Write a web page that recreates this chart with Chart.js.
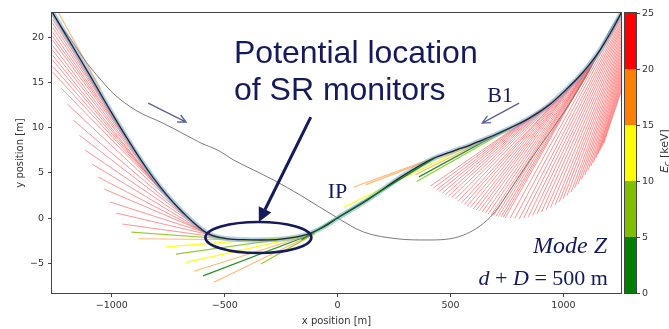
<!DOCTYPE html>
<html lang="en">
<head>
<meta charset="UTF-8">
<title>SR fans - Mode Z</title>
<script src="https://cdn.jsdelivr.net/npm/chart.js"></script>
<style>
  html, body { margin: 0; padding: 0; background: #fff; }
</style>
</head>
<body>
<canvas id="myChart" width="669" height="329"></canvas>
<script>
// ticks
const xTicks = [-1000, -500, 0, 500, 1000];
const yTicks = [-5, 0, 5, 10, 15, 20];
const cbarTicks = [0, 5, 10, 15, 20, 25];

// E_c colour bands [keV]
const bandEdges = [0, 5, 10, 15, 20, 25];
const bandColors = ['#007f00', '#80bf00', '#ffff00', '#ff7f00', '#ff0000'];

// B1 orbit
const b1X = [-1280, -1259, -1179, -1100, -994, -923, -870, -817, -760, -707, -671, -636, -605, -574, -530, -486, -420, -340, -270, -208, -160, -119, -60, 0, 132, 278, 424, 500, 543, 580, 618, 700, 808, 875, 941, 1007, 1073, 1118, 1162, 1206, 1254, 1275];
const b1Y = [23.5, 22.6, 19.24, 15.92, 11.36, 8.45, 6.38, 4.47, 2.65, 1.17, 0.27, -0.54, -1.19, -1.72, -2.12, -2.3, -2.4, -2.43, -2.38, -2.2, -1.98, -1.66, -0.95, 0, 2.0, 4.5, 6.6, 7.3, 7.7, 8.0, 8.4, 9.25, 10.5, 11.45, 12.6, 14.1, 15.75, 17.1, 18.6, 20.4, 22.6, 23.6];

// B2 orbit (grey)
const b2X = [-1275, -1259, -1179, -1113, -1047, -994, -892, -773, -658, -605, -530, -459, -371, -283, -163, 0, 115, 265, 397, 556, 676, 764, 852, 1007, 1117, 1206, 1254, 1270];
const b2Y = [23.5, 22.56, 19.7, 17.25, 15.26, 13.8, 11.9, 10.5, 9.0, 8.3, 7.5, 6.4, 5.3, 4.2, 2.5, 0, -1.55, -2.3, -2.43, -1.9, 0.1, 3.1, 6.4, 11.9, 16.4, 20.8, 22.7, 23.4];

// hard photons (20-25 keV): start on orbit -> end of fan line
const redX0 = [-1047, -1020, -994, -965, -936, -912, -888, -863, -839, -817, -795, -775, -755, -716, -680, -649, -623, -601, -583, -565, -543, -521, -499, -477,
  852, 883, 914, 945, 976, 1007, 1034, 1060, 1087, 1113, 1140, 1166, 1193, 1219,
  868, 899, 930, 961, 992, 1020, 1047, 1074, 1100, 1127, 1153, 1180, 1206,
  1256, 1256, 1256, 1256, 1256, 1256, 1256, 1256, 1256, 1256, 1256, 1256, 1256, 1256,
  1256, 1256, 1256, 1256, 1256, 1256, 1256, 1256, 1256, 1256, 1256, 1256, 1256];
const redY0 = [13.6, 12.4, 11.3, 10.1, 8.9, 8.0, 7.0, 6.0, 5.1, 4.2, 3.5, 2.95, 2.4, 1.4, 0.5, -0.3, -0.85, -1.28, -1.65, -1.9, -2.03, -2.14, -2.25, -2.32,
  11.17, 11.72, 12.28, 12.83, 13.49, 14.1, 14.82, 15.48, 16.26, 16.92, 17.81, 18.8, 19.8, 21.01,
  11.45, 12.0, 12.55, 13.16, 13.83, 14.49, 15.15, 15.87, 16.59, 17.37, 18.3, 19.3, 20.4,
  22.34, 21.79, 21.24, 20.68, 20.02, 19.36, 18.69, 18.03, 17.36, 16.7, 16.04, 15.37, 14.71, 14.05,
  22.07, 21.52, 20.96, 20.35, 19.69, 19.03, 18.36, 17.7, 17.03, 16.37, 15.71, 15.04, 14.38];
const redX1 = [-1262, -1262, -1262, -1262, -1262, -1262, -1262, -1262, -1262, -1262, -1262, -1262, -1262, -1224, -1197, -1171, -1144, -1118, -1087, -1060, -1034, -1007, -981, -954,
  411, 437, 464, 490, 521, 548, 574, 601, 627, 654, 680, 702, 724, 742,
  424, 450, 477, 505, 534, 561, 588, 614, 640, 667, 691, 713, 733,
  764, 804, 844, 883, 923, 963, 998, 1034, 1065, 1095, 1122, 1144, 1162, 1179,
  784, 824, 864, 903, 943, 981, 1016, 1050, 1080, 1109, 1133, 1153, 1171];
const redY1 = [22.45, 22.0, 21.57, 21.1, 20.57, 20.1, 19.69, 19.1, 18.58, 18.0, 17.47, 16.8, 16.15, 14.38, 12.61, 10.84, 9.18, 7.52, 5.97, 4.53, 3.21, 1.77, 0.55, -0.66,
  3.54, 3.1, 2.77, 2.43, 2.1, 1.66, 1.33, 1.0, 0.77, 0.55, 0.33, 0.22, 0.11, 0.0,
  3.32, 2.94, 2.6, 2.27, 1.88, 1.5, 1.17, 0.89, 0.66, 0.44, 0.28, 0.17, 0.05,
  0.0, -0.11, 0.11, 0.44, 0.88, 1.44, 2.1, 2.88, 3.76, 4.76, 5.75, 6.64, 7.52, 8.3,
  -0.06, 0.0, 0.28, 0.66, 1.16, 1.77, 2.49, 3.32, 4.26, 5.26, 6.2, 7.08, 7.91];

// softer photons, band = index in bandColors
const softX0 = [660, 680, 700, 590, 770, 730, -486, -420, -150, -150, -140, -130, -120, -110, -100, -1240];
const softY0 = [8.8, 9.0, 9.25, 8.1, 10.0, 9.6, -2.32, -2.4, -2.0, -2.0, -1.95, -1.9, -1.85, -1.8, -1.7, 22.9];
const softX1 = [70, 125, 345, 27, 350, 360, -914, -883, -760, -716, -671, -636, -596, -548, -340, -1050];
const softY1 = [3.4, 3.7, 4.8, 1.2, 4.05, 4.55, -1.55, -2.3, -3.2, -4.0, -4.9, -5.9, -6.4, -7.1, -5.1, 14.3];
const softBand = [3, 3, 3, 2, 1, 0, 1, 3, 2, 1, 2, 3, 0, 3, 1, 3];

// straight section through the IP (green overlay on the orbit)
const ipX = [430, -160];
const ipY = [6.65, -2.4];

const navy = '#141a5a';
const alphaFor = [0.85, 0.8, 0.9, 0.55, 0.42];
const widthFor = [1.3, 1.2, 1.2, 1.1, 1];

function rgba(hex, a) {
    const n = parseInt(hex.slice(1), 16);
    return `rgba(${n >> 16}, ${(n >> 8) & 255}, ${n & 255}, ${a})`;
}

function segment(x0, y0, x1, y1, band, order) {
    return {
        data: [{ x: x0, y: y0 }, { x: x1, y: y1 }],
        showLine: true,
        borderColor: rgba(bandColors[band], alphaFor[band]),
        borderWidth: widthFor[band],
        pointRadius: 0,
        order: order
    };
}

const datasets = [];

// orbits
datasets.push({
    data: ipX.map((x, i) => ({ x, y: ipY[i] })),
    showLine: true, borderColor: rgba(bandColors[0], 0.9), borderWidth: 1.3, pointRadius: 0, order: 0
});
datasets.push({
    data: b1X.map((x, i) => ({ x, y: b1Y[i] })),
    showLine: true, borderColor: '#232323', borderWidth: 1.3, pointRadius: 0,
    cubicInterpolationMode: 'monotone', order: 1
});
datasets.push({
    data: b1X.map((x, i) => ({ x, y: b1Y[i] })),
    showLine: true, borderColor: 'rgba(110, 165, 215, 0.55)', borderWidth: 5, pointRadius: 0,
    cubicInterpolationMode: 'monotone', order: 2
});
datasets.push({
    data: b2X.map((x, i) => ({ x, y: b2Y[i] })),
    showLine: true, borderColor: '#7a7a7a', borderWidth: 1, pointRadius: 0,
    cubicInterpolationMode: 'monotone', order: 3
});

softX0.forEach((x, i) => datasets.push(segment(x, softY0[i], softX1[i], softY1[i], softBand[i], 5)));
redX0.forEach((x, i) => datasets.push(segment(x, redY0[i], redX1[i], redY1[i], 4, 6)));

function fmt(v) {
    return v < 0 ? '\u2212' + Math.abs(v) : String(v);
}

function openArrow(ctx, x0, y0, x1, y1, head) {
    const a = Math.atan2(y1 - y0, x1 - x0);
    ctx.beginPath();
    ctx.moveTo(x0, y0);
    ctx.lineTo(x1, y1);
    ctx.moveTo(x1 - head * Math.cos(a - 0.45), y1 - head * Math.sin(a - 0.45));
    ctx.lineTo(x1, y1);
    ctx.lineTo(x1 - head * Math.cos(a + 0.45), y1 - head * Math.sin(a + 0.45));
    ctx.stroke();
}

function drawPieces(ctx, pieces, rightX, baseY) {
    let total = 0;
    pieces.forEach(p => { ctx.font = p.font; p.w = ctx.measureText(p.text).width; total += p.w; });
    let x = rightX - total;
    pieces.forEach(p => {
        ctx.font = p.font;
        ctx.fillText(p.text, x, baseY + (p.dy || 0));
        x += p.w;
    });
}

const overlay = {
    id: 'overlay',
    afterDraw(chart) {
        const ctx = chart.ctx;
        const area = chart.chartArea;
        const sx = chart.scales.x, sy = chart.scales.y;
        const X = v => sx.getPixelForValue(v);
        const Y = v => sy.getPixelForValue(v);

        ctx.save();
        // frame
        ctx.strokeStyle = '#444';
        ctx.lineWidth = 1;
        ctx.strokeRect(Math.round(area.left) - 0.5, Math.round(area.top) - 0.5,
            Math.round(area.right - area.left) + 1, Math.round(area.bottom - area.top) + 1);

        // colour bar
        const cbL = Math.round(area.right) + 4, cbW = 11;
        const cy = v => area.bottom - (v / 25) * (area.bottom - area.top);
        bandColors.forEach((c, i) => {
            ctx.fillStyle = c;
            ctx.fillRect(cbL, cy(bandEdges[i + 1]), cbW, cy(bandEdges[i]) - cy(bandEdges[i + 1]));
        });
        ctx.strokeStyle = '#444';
        ctx.strokeRect(cbL - 0.5, Math.round(area.top) - 0.5, cbW + 1, Math.round(area.bottom - area.top) + 1);
        ctx.fillStyle = '#333';
        ctx.font = '9.5px "DejaVu Sans"';
        ctx.textAlign = 'left';
        ctx.textBaseline = 'middle';
        cbarTicks.forEach(v => {
            const y = Math.round(cy(v)) + 0.5;
            ctx.beginPath();
            ctx.moveTo(cbL + cbW, y);
            ctx.lineTo(cbL + cbW + 4, y);
            ctx.stroke();
            ctx.fillText(String(v), cbL + cbW + 6, y);
        });
        // E_c [keV]
        ctx.save();
        ctx.translate(664, (area.top + area.bottom) / 2 - 2);
        ctx.rotate(-Math.PI / 2);
        ctx.textBaseline = 'alphabetic';
        const lab = [
            { text: 'E', font: 'italic 11px "DejaVu Sans"' },
            { text: 'c', font: 'italic 8px "DejaVu Sans"', dy: 2 },
            { text: ' [keV]', font: '11px "DejaVu Sans"' }
        ];
        let tw = 0;
        lab.forEach(p => { ctx.font = p.font; tw += ctx.measureText(p.text).width; });
        drawPieces(ctx, lab, tw / 2, 4);
        ctx.restore();

        // notes
        ctx.fillStyle = navy;
        ctx.strokeStyle = navy;
        ctx.textAlign = 'left';
        ctx.textBaseline = 'alphabetic';
        ctx.font = '32px "Liberation Sans"';
        ctx.fillText('Potential location', X(-459), Y(17.14));
        ctx.fillText('of SR monitors', X(-459), Y(13.05));

        // big arrow to the ellipse
        const ax0 = X(-119), ay0 = Y(11.17), ax1 = X(-349), ay1 = Y(-0.44);
        const ang = Math.atan2(ay1 - ay0, ax1 - ax0);
        const hl = 14, hw = 7;
        ctx.lineWidth = 3;
        ctx.beginPath();
        ctx.moveTo(ax0, ay0);
        ctx.lineTo(ax1 - hl * Math.cos(ang), ay1 - hl * Math.sin(ang));
        ctx.stroke();
        ctx.beginPath();
        ctx.moveTo(ax1, ay1);
        ctx.lineTo(ax1 - hl * Math.cos(ang) + hw * Math.sin(ang), ay1 - hl * Math.sin(ang) - hw * Math.cos(ang));
        ctx.lineTo(ax1 - hl * Math.cos(ang) - hw * Math.sin(ang), ay1 - hl * Math.sin(ang) + hw * Math.cos(ang));
        ctx.closePath();
        ctx.fill();

        // ellipse
        ctx.lineWidth = 2.6;
        ctx.beginPath();
        ctx.ellipse(X(-351), Y(-2.16), 53, 15.5, 0, 0, Math.PI * 2);
        ctx.stroke();

        // beam direction arrows
        ctx.strokeStyle = '#5c6096';
        ctx.lineWidth = 1.3;
        openArrow(ctx, X(-839), Y(12.72), X(-671), Y(10.62), 9);
        openArrow(ctx, X(804), Y(12.72), X(640), Y(10.51), 9);

        ctx.font = '22px "Liberation Serif"';
        ctx.fillText('B1', X(663), Y(12.83));
        ctx.fillText('IP', X(-44), Y(2.21));

        ctx.font = 'italic 24px "Liberation Serif"';
        ctx.textAlign = 'right';
        ctx.fillText('Mode Z', X(1193), Y(-3.87));
        ctx.textAlign = 'left';
        drawPieces(ctx, [
            { text: 'd', font: 'italic 22px "Liberation Serif"' },
            { text: ' + ', font: '22px "Liberation Serif"' },
            { text: 'D', font: 'italic 22px "Liberation Serif"' },
            { text: ' = 500 m', font: '22px "Liberation Serif"' }
        ], X(1197), Y(-7.41));
        ctx.restore();
    }
};

const ctx = document.getElementById('myChart').getContext('2d');

new Chart(ctx, {
    type: 'scatter',
    data: { datasets: datasets },
    options: {
        responsive: false,
        animation: false,
        layout: { padding: { left: 0, right: 48, top: 13, bottom: 0 } },
        plugins: { legend: { display: false }, tooltip: { enabled: false } },
        scales: {
            x: {
                type: 'linear',
                min: -1265,
                max: 1255,
                afterBuildTicks: axis => { axis.ticks = xTicks.map(v => ({ value: v })); },
                afterFit: axis => { axis.height = 36; },
                ticks: {
                    autoSkip: false, maxRotation: 0, padding: 3, color: '#333',
                    font: { family: 'DejaVu Sans', size: 9.5 },
                    callback: v => fmt(v)
                },
                grid: { drawOnChartArea: false, tickLength: 4, tickColor: '#444' },
                border: { display: false },
                title: {
                    display: true, text: 'x position [m]', color: '#333',
                    font: { family: 'DejaVu Sans', size: 10 },
                    padding: { top: 0, bottom: 2 }
                }
            },
            y: {
                type: 'linear',
                min: -8.3,
                max: 22.7,
                afterBuildTicks: axis => { axis.ticks = yTicks.map(v => ({ value: v })); },
                afterFit: axis => { axis.width = 52; },
                ticks: {
                    autoSkip: false, padding: 4, color: '#333',
                    font: { family: 'DejaVu Sans', size: 9.5 },
                    callback: v => fmt(v)
                },
                grid: { drawOnChartArea: false, tickLength: 4, tickColor: '#444' },
                border: { display: false },
                title: {
                    display: true, text: 'y position [m]', color: '#333',
                    font: { family: 'DejaVu Sans', size: 10 },
                    padding: { top: 14, bottom: 0 }
                }
            }
        }
    },
    plugins: [overlay]
});
</script>
</body>
</html>
